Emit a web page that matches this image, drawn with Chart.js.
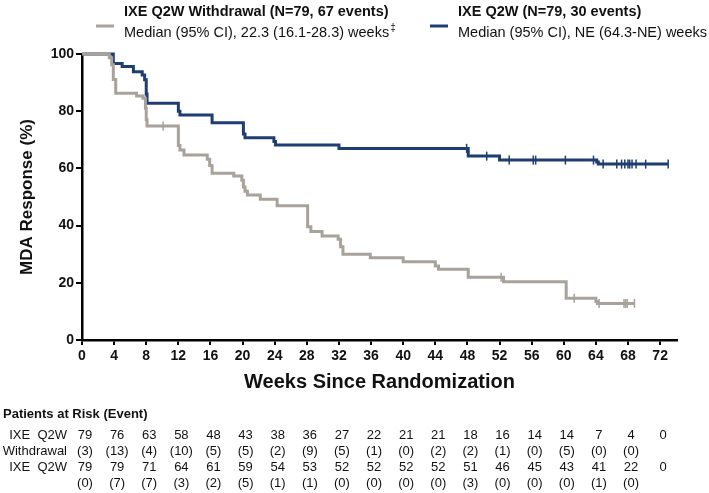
<!DOCTYPE html>
<html>
<head>
<meta charset="utf-8">
<script src="https://cdn.jsdelivr.net/npm/chart.js@4.4.1/dist/chart.umd.min.js"></script>
<style>
  html, body { margin: 0; padding: 0; background: #fff; }
</style>
</head>
<body>
<canvas id="km" width="709" height="493"></canvas>
<script>
// KM step points (week, % still in MDA)
const withdrawalWeeks = [0, 3.4, 3.7, 3.9, 4.2, 6.8, 7.6, 7.9, 8.0, 8.1, 12.0, 12.2, 12.7, 15.6, 15.9, 16.2, 18.9, 19.9, 20.1, 20.3, 20.6, 22.2, 24.3, 28.1, 28.5, 29.9, 31.9, 32.2, 32.5, 35.9, 40.0, 44.0, 44.4, 48.1, 52.5, 60.3, 64.0, 64.2, 68.8];
const withdrawalPct = [100, 98.7, 96.2, 91.1, 86.3, 85.3, 84.5, 81, 77, 74.8, 68, 66.4, 64.7, 63.2, 61, 58.3, 57.3, 55.9, 53.5, 52, 50.7, 49.2, 46.9, 39.6, 37.9, 36.4, 35.2, 32.6, 30.0, 28.8, 27.4, 25.9, 24.7, 21.9, 20.4, 14.6, 13.5, 12.8, 12.8];
const withdrawalCensorWeeks = [10.1, 52.2, 61.3, 64.4, 67.5, 67.7, 67.9, 68.8];
const withdrawalCensorPct = [74.8, 21.9, 14.6, 12.8, 12.8, 12.8, 12.8, 12.8];

const q2wWeeks = [0, 3.9, 5.0, 6.4, 7.5, 7.8, 8.0, 8.1, 12.0, 12.2, 16.2, 20.1, 20.3, 23.9, 24.1, 32.0, 48.1, 52.0, 64.1, 64.3, 73.0];
const q2wPct = [100, 96.7, 95.6, 93.8, 92.7, 91, 86, 82.8, 80, 78.7, 76.0, 72, 70.7, 69.4, 68.2, 67.0, 64.3, 62.9, 62.2, 61.5, 61.5];
const q2wCensorWeeks = [47.9, 50.4, 53.2, 56.2, 56.5, 60.2, 63.7, 64.9, 66.6, 67.2, 67.6, 68.0, 68.2, 68.5, 69.0, 70.2, 73.0];
const q2wCensorPct = [67.0, 64.3, 62.9, 62.9, 62.9, 62.9, 62.9, 61.5, 61.5, 61.5, 61.5, 61.5, 61.5, 61.5, 61.5, 61.5, 61.5];

// patients at risk table
const riskWeeks = [0, 4, 8, 12, 16, 20, 24, 28, 32, 36, 40, 44, 48, 52, 56, 60, 64, 68, 72];
const withdrawalAtRisk = [79, 76, 63, 58, 48, 43, 38, 36, 27, 22, 21, 21, 18, 16, 14, 14, 7, 4, 0];
const withdrawalEvents = [3, 13, 4, 10, 5, 5, 2, 9, 5, 1, 0, 2, 2, 1, 0, 5, 0, 0];
const q2wAtRisk = [79, 79, 71, 64, 61, 59, 54, 53, 52, 52, 52, 52, 51, 46, 45, 43, 41, 22, 0];
const q2wEvents = [0, 7, 7, 3, 2, 5, 1, 1, 0, 0, 0, 0, 3, 0, 0, 0, 1, 0];

const legendTitles = ['IXE Q2W Withdrawal (N=79, 67 events)', 'IXE Q2W (N=79, 30 events)'];
const legendMedians = ['Median (95% CI), 22.3 (16.1-28.3) weeks', 'Median (95% CI), NE (64.3-NE) weeks'];
const legendMarks = ['\u2021', ''];

const GRAY = '#a8a29a';
const BLUE = '#1f3d70';
const FONT = "'Liberation Sans', Arial, sans-serif";

const toPts = (xs, ys) => xs.map((x, i) => ({ x: x, y: ys[i] }));

const extras = {
  id: 'extras',
  afterDraw(chart) {
    const ctx = chart.ctx;
    const xs = chart.scales.x;
    ctx.save();

    // legend
    const items = [
      { color: GRAY, lineX: 96, textX: 124 },
      { color: BLUE, lineX: 430, textX: 458 }
    ];
    items.forEach((it, i) => {
      ctx.strokeStyle = it.color;
      ctx.lineWidth = 3;
      ctx.beginPath();
      ctx.moveTo(it.lineX, 26);
      ctx.lineTo(it.lineX + 18, 26);
      ctx.stroke();
      ctx.fillStyle = '#111';
      ctx.textBaseline = 'middle';
      ctx.textAlign = 'left';
      ctx.font = 'bold 14.5px ' + FONT;
      ctx.fillText(legendTitles[i], it.textX, 12);
      ctx.font = '14.5px ' + FONT;
      ctx.fillText(legendMedians[i], it.textX, 33);
      if (legendMarks[i]) {
        const w = ctx.measureText(legendMedians[i]).width;
        ctx.font = '10px ' + FONT;
        ctx.fillText(legendMarks[i], it.textX + w + 1, 28);
      }
    });

    // risk table
    ctx.fillStyle = '#111';
    ctx.textBaseline = 'middle';
    ctx.textAlign = 'left';
    ctx.font = 'bold 13px ' + FONT;
    ctx.fillText('Patients at Risk (Event)', 3, 414);

    ctx.font = '13px ' + FONT;
    ctx.textAlign = 'right';
    ctx.fillText('IXE  Q2W', 67, 435);
    ctx.fillText('Withdrawal', 67, 451);
    ctx.fillText('IXE  Q2W', 67, 467);

    ctx.textAlign = 'center';
    riskWeeks.forEach((w, i) => {
      const px = xs.getPixelForValue(w) + 3;
      ctx.fillText(String(withdrawalAtRisk[i]), px, 435);
      if (i < withdrawalEvents.length) ctx.fillText('(' + withdrawalEvents[i] + ')', px, 451);
      ctx.fillText(String(q2wAtRisk[i]), px, 467);
      if (i < q2wEvents.length) ctx.fillText('(' + q2wEvents[i] + ')', px, 483);
    });
    ctx.restore();
  }
};

new Chart(document.getElementById('km'), {
  type: 'line',
  data: {
    datasets: [
      {
        data: toPts(withdrawalWeeks, withdrawalPct),
        borderColor: GRAY,
        borderWidth: 3,
        stepped: true,
        pointRadius: 0,
        clip: false
      },
      {
        data: toPts(q2wWeeks, q2wPct),
        borderColor: BLUE,
        borderWidth: 3,
        stepped: true,
        pointRadius: 0,
        clip: false
      },
      {
        data: toPts(withdrawalCensorWeeks, withdrawalCensorPct),
        showLine: false,
        pointStyle: 'line',
        rotation: 90,
        pointRadius: 4.5,
        borderColor: GRAY,
        borderWidth: 1.5,
        clip: false
      },
      {
        data: toPts(q2wCensorWeeks, q2wCensorPct),
        showLine: false,
        pointStyle: 'line',
        rotation: 90,
        pointRadius: 4.5,
        borderColor: BLUE,
        borderWidth: 1.5,
        clip: false
      }
    ]
  },
  options: {
    responsive: false,
    animation: false,
    layout: { padding: { left: 0, top: 54, right: 32, bottom: 99 } },
    scales: {
      x: {
        type: 'linear',
        min: 0,
        max: 74.1,
        afterFit: s => { s.height = 54; },
        border: { display: true, color: '#000', width: 2.5 },
        grid: { drawOnChartArea: false, drawTicks: true, tickLength: 5, color: '#000', lineWidth: 2 },
        ticks: {
          stepSize: 4,
          includeBounds: false,
          autoSkip: false,
          maxRotation: 0,
          padding: 3,
          color: '#111',
          font: { family: FONT, size: 14, weight: 'bold' }
        },
        title: {
          display: true,
          text: 'Weeks Since Randomization',
          color: '#111',
          padding: { top: 0, bottom: 0 },
          font: { family: FONT, size: 20, weight: 'bold' }
        }
      },
      y: {
        min: 0,
        max: 100,
        afterFit: s => { s.width = 82; },
        border: { display: true, color: '#000', width: 2.5 },
        grid: { drawOnChartArea: false, drawTicks: true, tickLength: 6, color: '#000', lineWidth: 2 },
        ticks: {
          stepSize: 20,
          padding: 2,
          color: '#111',
          font: { family: FONT, size: 14, weight: 'bold' }
        },
        title: {
          display: true,
          text: 'MDA Response (%)',
          color: '#111',
          padding: { top: 17, bottom: 0 },
          font: { family: FONT, size: 17, weight: 'bold' }
        }
      }
    },
    plugins: {
      legend: { display: false },
      tooltip: { enabled: false }
    }
  },
  plugins: [extras]
});
</script>
</body>
</html>
